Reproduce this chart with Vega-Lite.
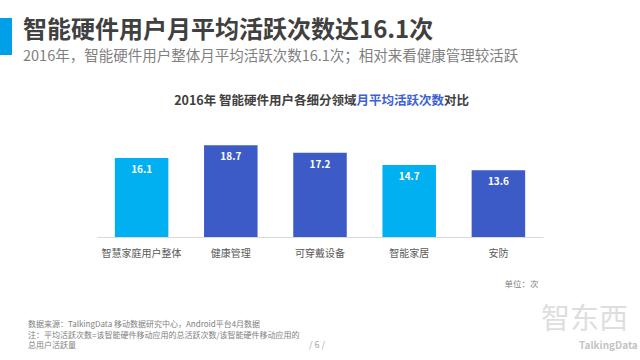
{
  "$schema": "https://vega.github.io/schema/vega-lite/v6.json",
  "width": 446,
  "height": 98,
  "autosize": {"type": "none"},
  "padding": {"left": 97, "top": 139, "right": 97, "bottom": 123},
  "background": "white",
  "config": {
    "font": "Noto Sans CJK SC",
    "view": {"stroke": null},
    "legend": {"orient": "none", "padding": 0, "symbolSize": 0, "symbolOpacity": 0, "titleLimit": 1000, "labelLimit": 1000, "titleFont": "Noto Sans CJK SC", "labelFont": "Noto Sans CJK SC"}
  },
  "title": {
    "text": "智能硬件用户月平均活跃次数达16.1次",
    "subtitle": "2016年，智能硬件用户整体月平均活跃次数16.1次；相对来看健康管理较活跃",
    "anchor": "start",
    "frame": "group",
    "dx": -74,
    "offset": -45,
    "font": "Noto Sans CJK SC",
    "fontSize": 24,
    "fontWeight": "bold",
    "color": "#404040",
    "subtitleFont": "Noto Sans CJK SC",
    "subtitleFontSize": 14.5,
    "subtitleColor": "#7f7f7f",
    "subtitlePadding": 7
  },
  "data": {
    "values": [
      {"segment": "智慧家庭用户整体", "value": 16.1},
      {"segment": "健康管理", "value": 18.7},
      {"segment": "可穿戴设备", "value": 17.2},
      {"segment": "智能家居", "value": 14.7},
      {"segment": "安防", "value": 13.6}
    ]
  },
  "layer": [
    {
      "data": {"values": [{"marker": "title"}]},
      "mark": {"type": "point", "filled": true, "color": "#00A0E9", "opacity": 0},
      "encoding": {
        "shape": {
          "field": "marker",
          "type": "nominal",
          "scale": {"range": ["M-0.3243,-1H0.3243V1H-0.3243Z"]},
          "legend": {"title": null, "legendX": -109.5, "legendY": -121, "symbolSize": 1369, "symbolOpacity": 1, "symbolStrokeWidth": 0, "symbolFillColor": "#00A0E9", "labelExpr": "''"}
        }
      }
    },
    {
      "mark": {"type": "bar"},
      "encoding": {
        "x": {
          "field": "segment",
          "type": "nominal",
          "sort": null,
          "scale": {"paddingInner": 0.4, "paddingOuter": 0.2},
          "axis": {
            "orient": "bottom",
            "labelAngle": 0,
            "labelFontSize": 10,
            "labelColor": "#595959",
            "labelPadding": 11,
            "ticks": false,
            "tickSize": 0,
            "domainColor": "#d9d9d9",
            "domainWidth": 1.2,
            "title": "单位：次",
            "titleFontSize": 8.5,
            "titleFontWeight": "normal",
            "titleColor": "#7f7f7f",
            "titleAlign": "left",
            "titleBaseline": "middle",
            "titleX": 407,
            "titleY": 46
          }
        },
        "y": {
          "field": "value",
          "type": "quantitative",
          "scale": {"domain": [0, 20]},
          "axis": {
            "orient": "left",
            "labels": false,
            "ticks": false,
            "domain": false,
            "grid": false,
            "title": "2016年 智能硬件用户各细分领域",
            "titleAngle": 0,
            "titleAlign": "right",
            "titleBaseline": "middle",
            "titleX": 259,
            "titleY": -39,
            "titleFontSize": 12.5,
            "titleFontWeight": "bold",
            "titleColor": "#404040"
          }
        },
        "color": {
          "field": "segment",
          "type": "nominal",
          "scale": {
            "domain": ["智慧家庭用户整体", "健康管理", "可穿戴设备", "智能家居", "安防"],
            "range": ["#00B0F0", "#3C5BC6", "#3C5BC6", "#00B0F0", "#3C5BC6"]
          },
          "legend": null
        }
      }
    },
    {
      "mark": {"type": "text", "color": "white", "fontWeight": "bold", "fontSize": 10, "baseline": "middle", "dy": 12},
      "encoding": {
        "x": {
          "field": "segment",
          "type": "nominal",
          "sort": null,
          "axis": {
            "orient": "top",
            "labels": false,
            "ticks": false,
            "domain": false,
            "grid": false,
            "title": "月平均活跃次数",
            "titleAlign": "left",
            "titleBaseline": "middle",
            "titleX": 259,
            "titleY": -39,
            "titleFontSize": 12.5,
            "titleFontWeight": "bold",
            "titleColor": "#3D62CF"
          }
        },
        "y": {
          "field": "value",
          "type": "quantitative",
          "axis": {
            "orient": "right",
            "labels": false,
            "ticks": false,
            "domain": false,
            "grid": false,
            "title": "对比",
            "titleAngle": 0,
            "titleAlign": "left",
            "titleBaseline": "middle",
            "titleX": -99.5,
            "titleY": -39,
            "titleFontSize": 12.5,
            "titleFontWeight": "bold",
            "titleColor": "#404040"
          }
        },
        "text": {"field": "value", "type": "quantitative", "format": ".1f"}
      }
    },
    {
      "data": {"values": [{"note": "notes"}]},
      "mark": {"type": "text"},
      "encoding": {
        "text": {"value": ""},
        "color": {
          "field": "note",
          "type": "nominal",
          "legend": {
            "title": ["数据来源：TalkingData 移动数据研究中心，Android平台4月数据", "注：平均活跃次数=该智能硬件移动应用的总活跃次数/该智能硬件移动应用的", "总用户活跃量"],
            "legendX": -69,
            "legendY": 182,
            "titleFontSize": 8,
            "titleFontWeight": "normal",
            "titleColor": "#808080",
            "titleLineHeight": 10.5,
            "labelExpr": "''"
          }
        }
      }
    },
    {
      "data": {"values": [{"page": "page"}]},
      "mark": {"type": "text"},
      "encoding": {
        "text": {"value": ""},
        "color": {
          "field": "page",
          "type": "nominal",
          "legend": {
            "title": "/ 6 /",
            "legendX": 212,
            "legendY": 202,
            "titleFontSize": 9,
            "titleFontWeight": "normal",
            "titleColor": "#a6a6a6",
            "labelExpr": "''"
          }
        }
      }
    },
    {
      "data": {"values": [{"brand": "TalkingData"}]},
      "mark": {"type": "text"},
      "encoding": {
        "text": {"value": ""},
        "color": {
          "field": "brand",
          "type": "nominal",
          "legend": {
            "title": "智东西",
            "legendX": 444,
            "legendY": 167,
            "titleFontSize": 29,
            "titleFontWeight": "normal",
            "titleColor": "#dedede",
            "titlePadding": 6,
            "labelFontSize": 10,
            "labelFontWeight": "bold",
            "labelColor": "#c4c4c4",
            "labelOffset": 28
          }
        }
      }
    }
  ],
  "resolve": {"axis": {"x": "independent", "y": "independent"}, "scale": {"color": "independent"}}
}
